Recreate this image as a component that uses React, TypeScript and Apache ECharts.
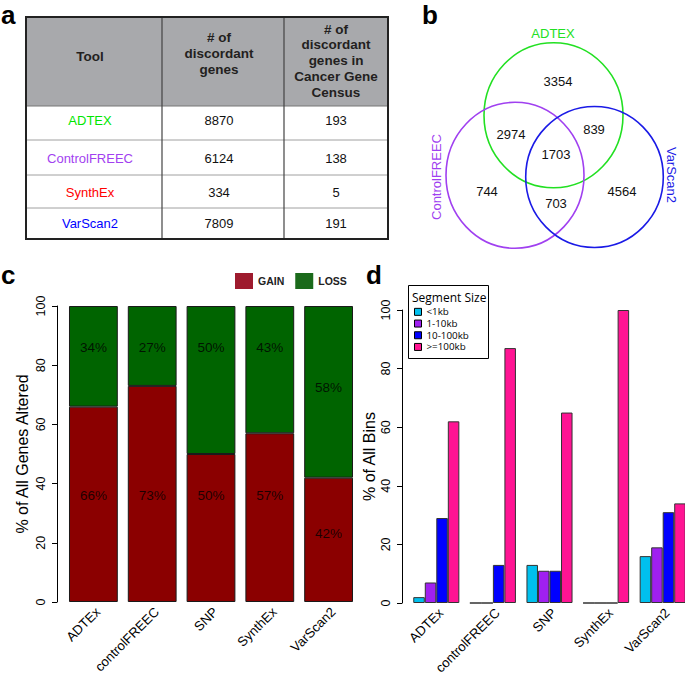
import React, { useEffect, useRef } from 'react';
import * as echarts from 'echarts';

// ---------- Panel a: table ----------
const tableTools = ['ADTEX', 'ControlFREEC', 'SynthEx', 'VarScan2'];
const toolColors = ['#00e600', '#a23ff0', '#ff0000', '#0000ff'];
const discordantGenes = [8870, 6124, 334, 7809];
const cgcGenes = [193, 138, 5, 191];
const headerCol1 = ['Tool'];
const headerCol2 = ['# of', 'discordant', 'genes'];
const headerCol3 = ['# of', 'discordant', 'genes in', 'Cancer Gene', 'Census'];

// ---------- Panel b: Venn ----------
const vennSets = ['ADTEX', 'ControlFREEC', 'VarScan2'];
const vennColors = ['#22e022', '#a040f0', '#1a1ae6'];
// A only, A∩C, A∩V, A∩C∩V, C only, C∩V, V only
const vennRegionValues = [3354, 2974, 839, 1703, 744, 703, 4564];

// ---------- Panel c: stacked bars ----------
const methods = ['ADTEx', 'controlFREEC', 'SNP', 'SynthEx', 'VarScan2'];
const gainPct = [66, 73, 50, 57, 42];
const lossPct = [34, 27, 50, 43, 58];
const gainLabelAt = [36, 36, 36, 36, 23];
const lossLabelAt = [86, 86, 86, 86, 72.5];
const yTicks = [0, 20, 40, 60, 80, 100];

// ---------- Panel d: grouped bars ----------
const segmentSizes = ['<1kb', '1-10kb', '10-100kb', '>=100kb'];
const segColors = ['#00c0ee', '#a020f0', '#0000ff', '#ff1493'];
const binLt1kb = [2, 0, 13, 0, 16];
const bin1to10kb = [7, 0, 11, 0, 19];
const bin10to100kb = [29, 13, 11, 0, 31];
const binGe100kb = [62, 87, 65, 100, 34];
const binSeries = [binLt1kb, bin1to10kb, bin10to100kb, binGe100kb];

const FF = '"Liberation Sans", Arial, Helvetica, sans-serif';
const OS = '"Open Sans", "Noto Sans", sans-serif';
const font = (size: number, bold = false, fam = FF) => `${bold ? 'bold ' : ''}${size}px ${fam}`;

function txt(text: string, x: number, y: number, f: string, fill = '#000', align = 'center', rotation = 0) {
  return {
    type: 'text',
    x,
    y,
    rotation,
    silent: true,
    style: { text, font: f, fill, align, textAlign: align, verticalAlign: 'middle', textVerticalAlign: 'middle' },
  };
}

function buildGraphics() {
  const els: any[] = [];
  // panel letters
  els.push(txt('a', 1, 15, font(26, true), '#000', 'left'));
  els.push(txt('b', 422, 15, font(26, true), '#000', 'left'));
  els.push(txt('c', 1, 275, font(26, true), '#000', 'left'));
  els.push(txt('d', 366, 275, font(26, true), '#000', 'left'));

  // ----- table -----
  const L = 26, R = 388, T = 17, HB = 106, B = 239;
  const rowLines = [140, 175, 208];
  const colLines = [162, 284];
  const colCenters = [90, 219, 336];
  const rowCenters = [120, 158, 192, 223];
  els.push({ type: 'rect', shape: { x: L, y: T, width: R - L, height: HB - T }, style: { fill: '#a8a9ac' }, silent: true });
  els.push({ type: 'line', shape: { x1: L, y1: HB, x2: R, y2: HB }, style: { stroke: '#777', lineWidth: 1 }, silent: true });
  rowLines.forEach((y) =>
    els.push({ type: 'line', shape: { x1: L, y1: y, x2: R, y2: y }, style: { stroke: '#a0a0a0', lineWidth: 1 }, silent: true })
  );
  colLines.forEach((x) =>
    els.push({ type: 'line', shape: { x1: x, y1: T, x2: x, y2: B }, style: { stroke: '#444', lineWidth: 1.2 }, silent: true })
  );
  els.push({ type: 'rect', shape: { x: L, y: T, width: R - L, height: B - T }, style: { fill: 'none', stroke: '#222', lineWidth: 2 }, silent: true });
  const hf = font(13.5, true);
  headerCol1.forEach((s, i) => els.push(txt(s, colCenters[0], 56 + i * 16, hf, '#231f20')));
  headerCol2.forEach((s, i) => els.push(txt(s, colCenters[1], 37 + i * 16, hf, '#231f20')));
  headerCol3.forEach((s, i) => els.push(txt(s, colCenters[2], 29 + i * 15.8, hf, '#231f20')));
  tableTools.forEach((t, i) => {
    els.push(txt(t, colCenters[0], rowCenters[i], font(13), toolColors[i]));
    els.push(txt(String(discordantGenes[i]), colCenters[1], rowCenters[i], font(13), '#111'));
    els.push(txt(String(cgcGenes[i]), colCenters[2], rowCenters[i], font(13), '#111'));
  });

  // ----- Venn -----
  const ellipses = [
    { cx: 553.5, cy: 115.3, rx: 69.5, ry: 72.5 },
    { cx: 515, cy: 175.3, rx: 69, ry: 73 },
    { cx: 594.5, cy: 177, rx: 68.8, ry: 70.5 },
  ];
  ellipses.forEach((e, i) =>
    els.push({ type: 'ellipse', shape: e, style: { fill: 'none', stroke: vennColors[i], lineWidth: 1.6 }, silent: true })
  );
  const regionPos = [[558, 81], [511, 134], [594, 129], [556, 154], [487, 191], [556, 203], [622, 191]];
  vennRegionValues.forEach((v, i) => els.push(txt(String(v), regionPos[i][0], regionPos[i][1], font(13), '#111')));
  els.push(txt(vennSets[0], 553, 33, font(13), vennColors[0]));
  els.push(txt(vennSets[1], 436, 177, font(13), vennColors[1], 'center', Math.PI / 2));
  els.push(txt(vennSets[2], 671, 175, font(13), vennColors[2], 'center', -Math.PI / 2));

  // ----- panel d legend box + title -----
  els.push({ type: 'rect', shape: { x: 408.5, y: 285.5, width: 80, height: 73 }, style: { fill: 'none', stroke: '#000', lineWidth: 1 }, silent: true });
  els.push(txt('Segment Size', 412, 297, font(12, false, OS), '#000', 'left'));
  return els;
}

export default function App() {
  const ref = useRef<HTMLDivElement>(null);
  useEffect(() => {
    document.body.style.margin = '0';
    const chart = echarts.init(ref.current!, null, { renderer: 'svg' });

    const yAxisCommon = (offset: number, name: string, nameGap: number) => ({
      type: 'value',
      min: yTicks[0],
      max: yTicks[yTicks.length - 1],
      interval: yTicks[1] - yTicks[0],
      offset,
      name,
      nameLocation: 'middle',
      nameRotate: 90,
      nameGap,
      nameTextStyle: { fontFamily: FF, fontSize: 16, color: '#000' },
      axisLine: { show: true, lineStyle: { color: '#000', width: 1 } },
      axisTick: { show: true, length: 5, lineStyle: { color: '#000', width: 1 } },
      splitLine: { show: false },
      axisLabel: { rotate: 90, fontFamily: FF, fontSize: 12.5, color: '#000', margin: 10 },
    });
    const xAxisCommon = (gridIndex: number) => ({
      type: 'category',
      gridIndex,
      data: methods,
      axisLine: { show: false },
      axisTick: { show: false },
      axisLabel: {
        rotate: 45,
        fontFamily: FF,
        fontSize: 13.2,
        color: '#000',
        margin: 3,
        interval: 0,
        verticalAlign: 'top',
      },
    });

    const option: any = {
      animation: false,
      backgroundColor: '#fff',
      textStyle: { fontFamily: FF },
      grid: [
        { left: 64, top: 306, width: 294, height: 296, outerBoundsMode: 'none', containLabel: false },
        { left: 408, top: 310, width: 283, height: 293, outerBoundsMode: 'none', containLabel: false },
      ],
      xAxis: [xAxisCommon(0), xAxisCommon(1)],
      yAxis: [
        { ...yAxisCommon(7, '% of All Genes Altered', 26.5), gridIndex: 0 },
        { ...yAxisCommon(6, '% of All Bins', 24.5), gridIndex: 1 },
      ],
      legend: [
        {
          data: [
            { name: 'GAIN', itemStyle: { color: '#9e1b2e', borderWidth: 0 } },
            { name: 'LOSS', itemStyle: { color: '#1b6a1b', borderWidth: 0 } },
          ],
          left: 235,
          top: 273,
          padding: 0,
          itemWidth: 18,
          itemHeight: 16,
          itemGap: 11,
          icon: 'rect',
          textStyle: { fontFamily: FF, fontWeight: 'bold', fontSize: 10.5, color: '#222' },
        },
        {
          data: segmentSizes,
          orient: 'vertical',
          left: 414,
          top: 306,
          padding: 0,
          itemWidth: 7,
          itemHeight: 7,
          itemGap: 0,
          icon: 'rect',
          itemStyle: { borderColor: '#000', borderWidth: 1 },
          textStyle: { fontFamily: OS, fontSize: 9.8, color: '#000', lineHeight: 11.7 },
        },
      ],
      graphic: { elements: buildGraphics() },
      series: [
        {
          name: 'GAIN',
          type: 'bar',
          stack: 'c',
          xAxisIndex: 0,
          yAxisIndex: 0,
          data: gainPct,
          barCategoryGap: '17%',
          itemStyle: { color: '#8b0000', borderColor: '#1a1a1a', borderWidth: 1 },
        },
        {
          name: 'LOSS',
          type: 'bar',
          stack: 'c',
          xAxisIndex: 0,
          yAxisIndex: 0,
          data: lossPct,
          barCategoryGap: '17%',
          itemStyle: { color: '#006400', borderColor: '#1a1a1a', borderWidth: 1 },
        },
        {
          name: 'gainLabels',
          type: 'scatter',
          xAxisIndex: 0,
          yAxisIndex: 0,
          symbolSize: 0,
          silent: true,
          data: gainLabelAt.map((y, i) => [i, y]),
          label: {
            show: true,
            position: 'inside',
            formatter: (p: any) => `${gainPct[p.dataIndex]}%`,
            fontFamily: FF,
            fontSize: 13.5,
            color: '#000',
          },
        },
        {
          name: 'lossLabels',
          type: 'scatter',
          xAxisIndex: 0,
          yAxisIndex: 0,
          symbolSize: 0,
          silent: true,
          data: lossLabelAt.map((y, i) => [i, y]),
          label: {
            show: true,
            position: 'inside',
            formatter: (p: any) => `${lossPct[p.dataIndex]}%`,
            fontFamily: FF,
            fontSize: 13.5,
            color: '#000',
          },
        },
        ...binSeries.map((vals, k) => ({
          name: segmentSizes[k],
          type: 'bar',
          xAxisIndex: 1,
          yAxisIndex: 1,
          data: vals,
          barGap: '0%',
          barCategoryGap: '18.6%',
          itemStyle: { color: segColors[k], borderColor: '#333', borderWidth: 1 },
        })),
      ],
    };
    chart.setOption(option);
    return () => chart.dispose();
  }, []);
  return (
    <div
      ref={ref}
      style={{ position: 'absolute', left: 0, top: 0, width: 685, height: 676, background: '#fff' }}
    />
  );
}
